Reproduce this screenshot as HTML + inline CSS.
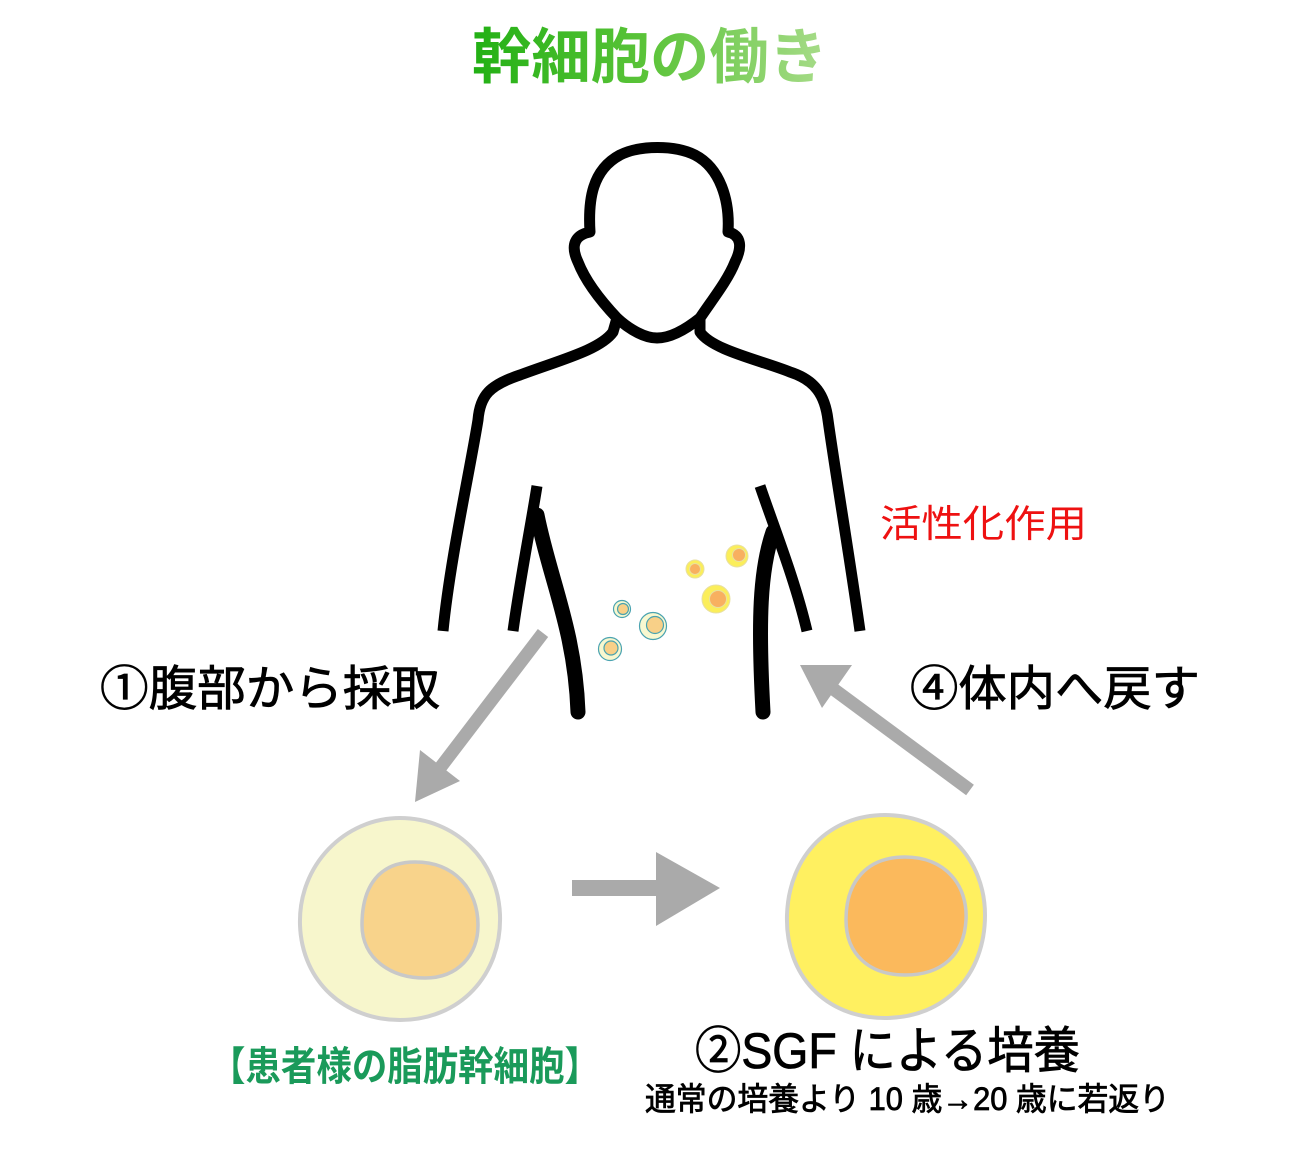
<!DOCTYPE html>
<html><head><meta charset="utf-8"><style>
html,body{margin:0;padding:0;background:#fff;}
svg{display:block}
text{font-family:"Liberation Sans","Noto Sans CJK JP",sans-serif;}
</style></head><body>
<svg width="1301" height="1153" viewBox="0 0 1301 1153" xmlns="http://www.w3.org/2000/svg">
<defs>
<linearGradient id="tg" x1="0" x2="1" y1="0" y2="0">
<stop offset="0" stop-color="#22b014"/><stop offset="0.5" stop-color="#5cc43a"/><stop offset="1" stop-color="#a8dc8a"/>
</linearGradient>
</defs>
<text x="472" y="78" font-size="60" font-weight="bold" fill="url(#tg)" textLength="356" lengthAdjust="spacingAndGlyphs">幹細胞の働き</text>

<!-- body outline -->
<g fill="none" stroke="#000" stroke-width="11" stroke-linejoin="round" stroke-linecap="butt">
<path d="M443,631 C450,560 470,470 478,420 C480,395 490,385 520,375 C560,360 600,350 613,332 L617,318
 C600,300 585,280 578,262 C570,245 575,235 590,232 C588,200 592,170 620,155 C640,145 675,145 695,155 C720,168 730,200 728,232 C742,235 742,248 735,262 C728,280 712,300 700,318
 L700,332 C712,350 760,360 790,372 C815,380 825,395 828,420 C835,470 850,560 860,631"/>
<path d="M617,318 C630,330 645,338 657,338 C670,338 685,330 700,318"/>
<path d="M537,486 C530,530 520,580 513,631"/>
<path d="M760,486 C775,530 795,580 807,631"/>
</g>
<g fill="none" stroke="#000" stroke-width="15" stroke-linecap="round">
<path d="M537,515 C550,580 575,630 578,712"/>
<path d="M773,532 C760,570 758,620 763,712"/>
</g>

<!-- small cells -->
<g stroke="#4aa3b0" stroke-width="1.2">
<circle cx="622" cy="609" r="8.5" fill="#f8f8d0"/><circle cx="623" cy="609" r="5.5" fill="#f8d088"/>
<circle cx="653" cy="626" r="13.5" fill="#f8f8d0"/><circle cx="655" cy="625" r="8.5" fill="#f8d088"/>
<circle cx="610" cy="649" r="11.5" fill="#f8f8d0"/><circle cx="611" cy="648" r="7" fill="#f8d088"/>
</g>
<g stroke="#e8e0a0" stroke-width="1">
<circle cx="695" cy="569" r="9" fill="#fbee5a"/><circle cx="695" cy="569" r="5.5" fill="#f8b060"/>
<circle cx="737" cy="556" r="11" fill="#fbee5a"/><circle cx="739" cy="555" r="6.5" fill="#f8b060"/>
<circle cx="716" cy="599" r="14" fill="#fbee5a"/><circle cx="718" cy="599" r="8.5" fill="#f8b060"/>
</g>

<text x="880" y="537" font-size="38" fill="#ee1111" textLength="207" lengthAdjust="spacingAndGlyphs">活性化作用</text>
<g stroke="#000" stroke-width="0.8">
<text x="100" y="705" font-size="48" fill="#000" textLength="340" lengthAdjust="spacingAndGlyphs">①腹部から採取</text>
<text x="910" y="705" font-size="48" fill="#000" textLength="290" lengthAdjust="spacingAndGlyphs">④体内へ戻す</text>
</g>

<!-- arrows -->
<g fill="#aaaaaa">
<line x1="543" y1="633" x2="440" y2="768" stroke="#aaa" stroke-width="13"/>
<polygon points="415,802 420,750 460,781"/>
<line x1="970" y1="790" x2="832" y2="688" stroke="#aaa" stroke-width="13"/>
<polygon points="800,665 852,665 822,708"/>
<rect x="572" y="880" width="90" height="16"/>
<polygon points="656,852 720,888 656,926"/>
</g>

<!-- big cells -->
<path d="M400,818 C455,818 498,860 500,915 C502,975 460,1020 400,1020 C345,1020 302,982 300,925 C298,865 345,818 400,818 Z" fill="#f7f6cc" stroke="#cfcfcf" stroke-width="4"/>
<path d="M415,862 C455,862 478,890 478,925 C478,955 458,978 425,978 C390,978 362,958 362,925 C362,885 380,862 415,862 Z" fill="#f8d38b" stroke="#c8c8c8" stroke-width="3.5"/>
<path d="M885,815 C945,815 985,860 985,915 C985,975 945,1018 885,1018 C825,1018 785,975 787,915 C789,855 830,815 885,815 Z" fill="#fff060" stroke="#cfcfcf" stroke-width="4"/>
<path d="M905,857 C945,857 968,885 966,920 C964,955 942,975 905,975 C870,975 846,955 846,920 C846,880 868,857 905,857 Z" fill="#fbb95c" stroke="#c8c8c8" stroke-width="3.5"/>

<text x="210" y="1080" font-size="40" font-weight="bold" fill="#1a9a5a" textLength="390" lengthAdjust="spacingAndGlyphs">【患者様の脂肪幹細胞】</text>
<g stroke="#000" stroke-width="0.8">
<text x="695" y="1068" font-size="50" fill="#000" textLength="385" lengthAdjust="spacingAndGlyphs">②SGF による培養</text>
<text x="645" y="1110" font-size="32" fill="#000" textLength="525" lengthAdjust="spacingAndGlyphs">通常の培養より 10 歳→20 歳に若返り</text>
</g>
</svg>
</body></html>
